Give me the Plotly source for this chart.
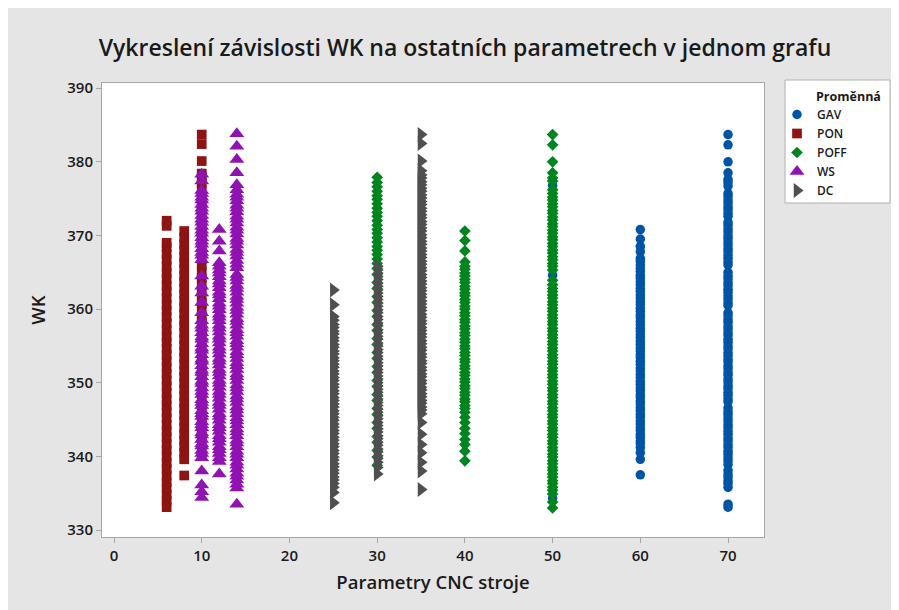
import plotly.graph_objects as go

# ---- data (WK values per parameter setting) ----
gav_50 = [334.3, 364.6, 376.8]
gav_60 = [337.5, 339.6, 340.5, 341.2, 341.7, 342.1, 342.6, 343.0, 343.5, 343.9, 344.4, 344.8,
          345.3, 345.7, 346.2, 346.6, 347.1, 347.5, 348.0, 348.4, 348.9, 349.3, 349.8, 350.2,
          350.7, 351.1, 351.6, 352.0, 352.5, 352.9, 353.4, 353.8, 354.3, 354.7, 355.2, 355.6,
          356.1, 356.5, 357.0, 357.4, 357.9, 358.3, 358.8, 359.2, 359.7, 360.1, 360.6, 361.0,
          361.5, 361.9, 362.4, 362.8, 363.3, 363.7, 364.2, 364.6, 365.1, 365.5, 366.0, 366.5,
          366.9, 367.8, 368.5, 369.5, 370.8]
gav_70 = [333.1, 333.5, 335.8, 336.3, 336.7, 337.2, 337.6, 338.1, 338.9, 339.4, 339.8, 340.3,
          340.7, 341.2, 341.6, 342.1, 342.5, 343.0, 343.4, 343.9, 344.3, 344.8, 345.2, 345.7,
          346.1, 346.6, 347.4, 347.8, 348.3, 348.7, 349.2, 349.6, 350.1, 350.5, 351.0, 351.4,
          351.9, 352.3, 352.8, 353.2, 353.7, 354.1, 354.6, 355.0, 355.5, 355.9, 356.4, 356.8,
          357.3, 357.7, 358.2, 358.6, 359.1, 359.5, 360.5, 360.9, 361.4, 361.8, 362.3, 362.7,
          363.2, 363.6, 364.1, 364.5, 365.0, 366.0, 366.4, 366.9, 367.3, 367.8, 368.2, 368.7,
          369.1, 369.6, 370.0, 370.5, 370.9, 371.4, 371.8, 372.6, 373.0, 373.5, 373.9, 374.4,
          374.8, 375.3, 375.7, 376.7, 377.2, 377.6, 378.5, 380.0, 382.3, 383.7]

pon_6 = [333.1, 334.0, 334.8, 335.7, 336.5, 337.4, 338.3, 339.1, 340.0, 340.9, 341.7, 342.6,
         343.4, 344.3, 345.2, 346.0, 346.9, 347.7, 348.6, 349.5, 350.3, 351.2, 352.0, 352.9,
         353.8, 354.6, 355.5, 356.3, 357.2, 358.1, 358.9, 359.8, 360.6, 361.5, 362.4, 363.2,
         364.1, 364.9, 365.8, 366.7, 367.5, 368.4, 369.0, 371.3, 372.0]
pon_8 = [337.4, 339.6, 340.5, 341.3, 342.2, 343.0, 343.9, 344.8, 345.6, 346.5, 347.3, 348.2,
         349.1, 349.9, 350.8, 351.6, 352.5, 353.4, 354.2, 355.1, 355.9, 356.8, 357.7, 358.5,
         359.4, 360.2, 361.1, 362.0, 362.8, 363.7, 364.5, 365.4, 366.3, 367.1, 368.0, 368.8,
         369.7, 370.6]
pon_10 = [340.1, 341.0, 341.8, 342.7, 343.6, 344.4, 345.3, 346.1, 347.0, 347.9, 348.7, 349.6,
          350.4, 351.3, 352.2, 353.0, 353.9, 354.7, 355.6, 356.5, 357.3, 358.2, 359.0, 359.9,
          360.8, 361.6, 362.5, 363.3, 364.2, 365.1, 365.9, 366.8, 367.6, 368.5, 369.4, 370.2,
          371.1, 371.9, 372.8, 373.7, 374.5, 375.4, 376.2, 377.1, 378.0, 378.4, 380.1, 382.4, 383.7]

poff_30 = [338.8, 339.9, 340.8, 341.9, 342.7, 343.8, 344.6, 345.7, 346.5, 347.6, 348.4, 349.5,
           350.3, 351.4, 352.2, 353.3, 354.1, 355.2, 356.0, 357.1, 357.9, 359.0, 359.8, 360.9,
           361.7, 362.8, 363.6, 364.7, 365.5, 366.2, 366.8, 367.4, 368.0, 368.5, 369.1, 369.7,
           370.3, 370.8, 371.4, 372.0, 372.6, 373.1, 373.7, 374.3, 374.9, 375.4, 376.0, 376.6,
           377.2, 377.9]
poff_40 = [339.4, 340.7, 341.6, 342.3, 343.1, 343.8, 344.6, 345.3, 346.0, 346.5, 346.9, 347.4,
           347.8, 348.3, 348.7, 349.2, 349.6, 350.1, 350.5, 351.0, 351.4, 351.9, 352.3, 352.8,
           353.2, 353.7, 354.1, 354.6, 355.0, 355.5, 355.9, 356.4, 356.8, 357.3, 357.7, 358.2,
           358.6, 359.1, 359.5, 360.0, 360.4, 360.9, 361.3, 361.8, 362.2, 362.7, 363.1, 363.6,
           364.0, 364.5, 364.9, 365.4, 365.8, 366.4, 367.9, 369.3, 370.6]
poff_50 = [333.0, 333.8, 334.9, 335.4, 335.8, 336.3, 336.7, 337.2, 337.6, 338.1, 338.5, 339.0,
           339.4, 339.9, 340.3, 340.8, 341.2, 341.7, 342.1, 342.6, 343.0, 343.5, 343.9, 344.4,
           344.8, 345.3, 345.7, 346.2, 346.6, 347.1, 347.5, 348.0, 348.4, 348.9, 349.3, 349.8,
           350.2, 350.7, 351.1, 351.6, 352.0, 352.5, 352.9, 353.4, 353.8, 354.3, 354.7, 355.2,
           355.6, 356.1, 356.5, 357.0, 357.4, 357.9, 358.3, 358.8, 359.2, 359.7, 360.1, 360.6,
           361.0, 361.5, 361.9, 362.4, 362.8, 363.3, 363.9, 365.3, 365.8, 366.2, 366.7, 367.1,
           367.6, 368.0, 368.5, 368.9, 369.4, 369.8, 370.3, 370.7, 371.2, 371.6, 372.1, 372.5,
           373.0, 373.4, 373.9, 374.3, 374.8, 375.2, 375.7, 376.2, 377.4, 377.8, 378.5, 380.0,
           382.3, 383.7]

ws_10 = [334.4, 335.2, 336.1, 338.0, 339.8, 340.4, 340.8, 341.4, 341.7, 342.3, 342.9, 343.2,
         343.9, 344.3, 344.7, 345.4, 345.8, 346.2, 346.9, 347.3, 347.7, 348.4, 348.8, 349.3,
         349.9, 350.2, 350.8, 351.4, 351.7, 352.3, 352.9, 353.2, 353.8, 354.4, 354.7, 355.3,
         355.9, 356.2, 356.8, 357.4, 357.8, 358.4, 359.5, 360.9, 362.2, 363.1, 364.5, 366.7,
         367.3, 367.7, 368.2, 368.8, 369.2, 369.7, 370.3, 370.7, 371.2, 371.8, 372.2, 372.7,
         373.3, 373.7, 374.2, 374.8, 375.2, 375.7, 376.1, 377.4, 378.3]
ws_12 = [337.6, 339.3, 339.8, 340.4, 340.9, 341.3, 341.9, 342.4, 342.8, 343.4, 343.9, 344.3,
         344.9, 345.4, 345.8, 346.4, 346.9, 347.3, 347.9, 348.4, 348.8, 349.4, 349.9, 350.3,
         350.9, 351.4, 351.8, 352.4, 352.9, 353.3, 353.9, 354.4, 354.8, 355.4, 355.9, 356.3,
         356.9, 357.4, 357.8, 358.4, 358.9, 359.3, 359.9, 360.4, 360.8, 361.4, 361.9, 362.3,
         362.9, 363.4, 363.8, 364.4, 364.9, 365.3, 365.8, 366.3, 367.9, 369.2, 370.8]
ws_14 = [333.5, 335.7, 336.2, 336.8, 337.3, 337.7, 338.3, 338.8, 339.2, 339.8, 340.3, 340.7,
         341.3, 341.8, 342.2, 342.8, 343.3, 343.7, 344.3, 344.8, 345.2, 345.8, 346.3, 346.7,
         347.3, 347.8, 348.2, 348.8, 349.3, 349.7, 350.3, 350.8, 351.2, 351.8, 352.3, 352.7,
         353.3, 353.8, 354.2, 354.8, 355.3, 355.7, 356.3, 356.8, 357.2, 357.8, 358.3, 358.7,
         359.3, 359.8, 360.2, 360.8, 361.3, 361.7, 362.3, 362.8, 363.2, 363.8, 364.3, 364.7,
         365.6, 366.1, 366.6, 367.2, 367.7, 368.1, 368.7, 369.2, 369.6, 370.2, 370.7, 371.1,
         371.7, 372.2, 372.6, 373.2, 373.7, 374.1, 374.7, 375.2, 375.6, 376.2, 376.9, 378.5,
         380.3, 382.1, 383.8]

dc_25 = [333.7, 335.1, 335.8, 336.3, 336.8, 337.2, 337.7, 338.1, 338.6, 339.0, 339.5, 339.9,
         340.4, 340.8, 341.3, 341.7, 342.2, 342.6, 343.1, 343.5, 344.0, 344.4, 344.9, 345.3,
         345.8, 346.2, 346.7, 347.1, 347.6, 348.0, 348.5, 348.9, 349.4, 349.8, 350.3, 350.7,
         351.2, 351.6, 352.1, 352.5, 353.0, 353.4, 353.9, 354.3, 354.8, 355.2, 355.7, 356.1,
         356.6, 357.0, 357.5, 357.9, 358.5, 359.0, 360.6, 362.6]
dc_30 = [337.6, 338.5, 339.2, 339.7, 340.1, 340.6, 341.0, 341.5, 341.9, 342.4, 342.8, 343.3,
         343.7, 344.2, 344.6, 345.1, 345.5, 346.0, 346.4, 346.9, 347.3, 347.8, 348.2, 348.7,
         349.1, 349.6, 350.0, 350.5, 350.9, 351.4, 351.8, 352.3, 352.7, 353.2, 353.6, 354.1,
         354.5, 355.0, 355.4, 355.9, 356.3, 356.8, 357.2, 357.7, 358.1, 358.6, 359.0, 359.5,
         359.9, 360.4, 360.8, 361.3, 361.7, 362.2, 362.6, 363.1, 363.5, 364.0, 364.4, 364.9,
         365.3, 365.8]
dc_35 = [335.5, 338.0, 339.2, 340.5, 341.6, 343.0, 344.6, 345.8, 346.3, 346.7, 347.2, 347.6,
         348.1, 348.5, 349.0, 349.4, 349.9, 350.3, 350.8, 351.2, 351.7, 352.1, 352.6, 353.0,
         353.5, 353.9, 354.4, 354.8, 355.3, 355.7, 356.2, 356.6, 357.1, 357.5, 358.0, 358.4,
         358.9, 359.3, 359.8, 360.2, 360.7, 361.1, 361.6, 362.0, 362.5, 362.9, 363.4, 363.8,
         364.3, 364.7, 365.2, 365.6, 366.1, 366.5, 367.0, 367.4, 367.9, 368.3, 368.8, 369.2,
         369.7, 370.1, 370.6, 371.0, 371.5, 371.9, 372.4, 372.8, 373.3, 373.7, 374.2, 374.6,
         375.1, 375.5, 376.0, 376.4, 376.9, 377.3, 377.8, 378.2, 378.8, 380.1, 382.5, 383.7]

series_names = ["GAV", "PON", "POFF", "WS", "DC"]
series_columns = [
    [(50, gav_50), (60, gav_60), (70, gav_70)],
    [(6, pon_6), (8, pon_8), (10, pon_10)],
    [(30, poff_30), (40, poff_40), (50, poff_50)],
    [(10, ws_10), (12, ws_12), (14, ws_14)],
    [(25, dc_25), (30, dc_30), (35, dc_35)],
]
x_ticks = [0, 10, 20, 30, 40, 50, 60, 70]
y_ticks = [330, 340, 350, 360, 370, 380, 390]

# ---- styles ----
symbols = ["circle", "square", "diamond", "triangle-up", "triangle-right"]
sizes = [9.5, 9.7, 9, 13, 13]
colors = ["#0054a6", "#8e1414", "#00851f", "#9012b2", "#4f4f4f"]
FONT = "Open Sans"
TXT = "#1a1a1a"

# plot area in figure pixels (figure sits 8px inside the page)
L, R, T, B = 94, 143, 75, 81
W, H = 899, 610
PW, PH = W - L - R, H - T - B


def px_x(px):
    return (px - L) / PW


def px_y(py):
    return (H - B - py) / PH


fig = go.Figure()
for name, cols, sym, sz, col in zip(series_names, series_columns, symbols, sizes, colors):
    xs, ys = [], []
    for xv, yv in cols:
        xs += [xv] * len(yv)
        ys += yv
    fig.add_trace(go.Scatter(
        x=xs, y=ys, mode="markers", name=name,
        marker=dict(symbol=sym, size=sz, color=col, line=dict(width=0)),
    ))

# legend frame and heading
fig.add_shape(type="rect", xref="paper", yref="paper",
              x0=px_x(777), x1=px_x(882), y0=px_y(195), y1=px_y(72),
              fillcolor="white", line=dict(color="#b0b0b0", width=1), layer="below")
fig.add_annotation(text="Proměnná", xref="paper", yref="paper",
                   x=px_x(806), y=px_y(88), xanchor="left", yanchor="middle",
                   showarrow=False, font=dict(size=12.5, family=FONT, weight=700, color=TXT))

fig.update_layout(
    width=W, height=H,
    margin=dict(l=L, r=R, t=T, b=B),
    paper_bgcolor="#e5e5e5",
    plot_bgcolor="white",
    font=dict(family=FONT, color=TXT),
    title=dict(
        text="Vykreslení závislosti WK na ostatních parametrech v jednom grafu",
        x=457 / W, xanchor="center", xref="container",
        y=1 - 40 / H, yanchor="middle", yref="container",
        font=dict(size=23, family=FONT, weight=600, color=TXT),
    ),
    legend=dict(
        font=dict(size=12, family=FONT, weight=600, color=TXT),
        x=px_x(769), y=px_y(92), xanchor="left", yanchor="top",
        bgcolor="rgba(0,0,0,0)", borderwidth=0,
        itemsizing="trace",
    ),
    showlegend=True,
)
fig.update_xaxes(
    range=[-1.37, 74.1], tickvals=x_ticks,
    showgrid=False, zeroline=False,
    showline=True, mirror=True, linecolor="#a8a8a8", linewidth=1,
    ticks="outside", ticklen=5, tickcolor="#a8a8a8",
    tickfont=dict(size=15, family=FONT, weight=600, color=TXT),
    title=dict(text="Parametry CNC stroje", font=dict(size=18.5, family=FONT, weight=600, color=TXT), standoff=12),
)
fig.update_yaxes(
    range=[329.05, 390.7], tickvals=y_ticks,
    showgrid=False, zeroline=False,
    showline=True, mirror=True, linecolor="#a8a8a8", linewidth=1,
    ticks="outside", ticklen=5, tickcolor="#a8a8a8",
    tickfont=dict(size=15, family=FONT, weight=600, color=TXT),
    title=dict(text="WK", font=dict(size=18.5, family=FONT, weight=600, color=TXT), standoff=16),
)

fig.write_html("out.html")
